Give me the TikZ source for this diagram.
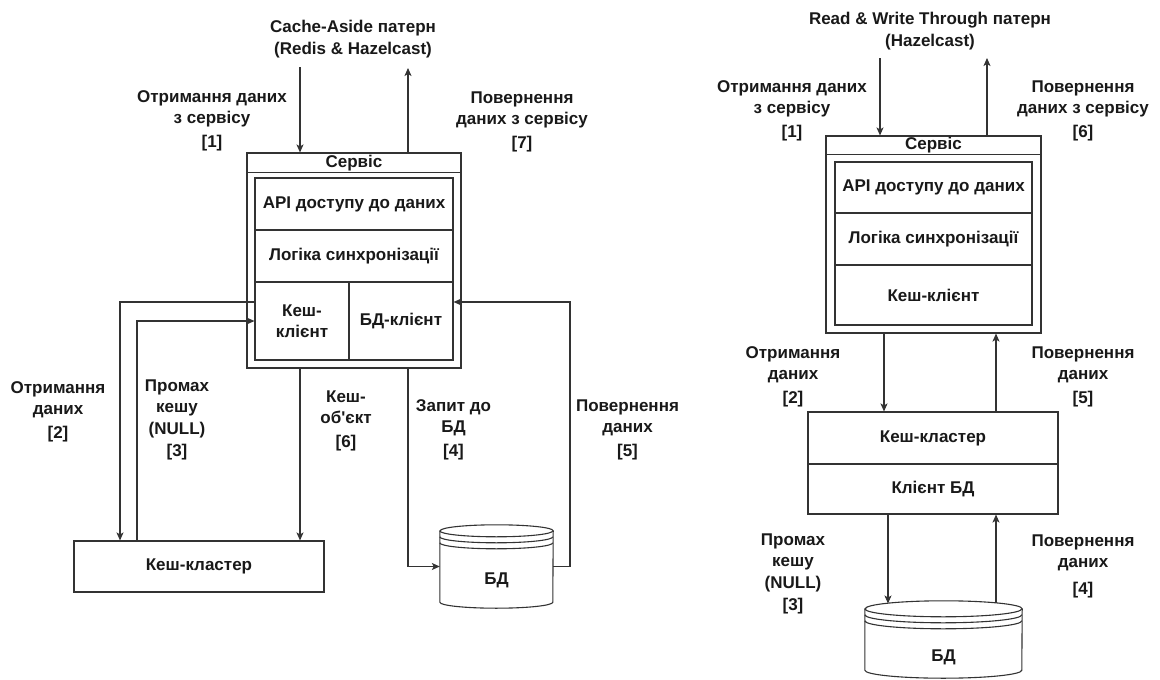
\documentclass[tikz,border=0pt]{standalone}
\usepackage{fontspec}
\newfontfamily\dgfont{Liberation Sans}
\usetikzlibrary{arrows.meta}

% cylinder-shaped data store drawn over an invisible node:
% #1 node name, #2 half width, #3 radius of the top ellipse
\newcommand\datastore[3]{%
  \draw[line,fill=white] ([yshift=-#3pt]#1.north west) -- ([yshift=#3pt]#1.south west)
    arc[start angle=180,end angle=360,x radius=#2pt,y radius=#3pt]
    -- ([yshift=-#3pt]#1.north east)
    arc[start angle=0,end angle=180,x radius=#2pt,y radius=#3pt] -- cycle;
  \draw[line] ([yshift=-#3pt]#1.north west)
    arc[start angle=180,end angle=360,x radius=#2pt,y radius=#3pt];
  \draw[line] ([yshift=-#3pt-6pt]#1.north west)
    arc[start angle=180,end angle=360,x radius=#2pt,y radius=#3pt];
  \draw[line] ([yshift=-#3pt-12pt]#1.north west)
    arc[start angle=180,end angle=360,x radius=#2pt,y radius=#3pt];
}

\begin{document}
\begin{tikzpicture}[x=1pt,y=-1pt,
  every node/.style={font=\dgfont\bfseries\fontsize{17}{21.5}\selectfont, text=black!90},
  line/.style={draw=black!80, line width=1.1pt},
  box/.style={line, rectangle, fill=white, inner sep=0pt, align=center},
  lbl/.style={align=center, inner sep=0pt},
  arr/.style={line, -{Stealth[length=8pt,width=7pt,inset=2pt]}}]

\fill[white] (0,0) rectangle (1160,680);
\useasboundingbox (0,0) rectangle (1160,680);

% ---------------- Cache-Aside ----------------
\node[lbl] (titleA) at (353,39) {Cache-Aside патерн\\(Redis \& Hazelcast)};

\node[box, minimum width=214pt, minimum height=215pt] (svcA) at (354,260.5) {};
\draw[line] ([yshift=-20pt]svcA.north west) -- ([yshift=-20pt]svcA.north east);
\node[lbl] (svcAt) at (354,163) {Сервіс};
\node[box, minimum width=198pt, minimum height=52pt] (apiA) at (354,204) {API доступу до даних};
\node[box, minimum width=198pt, minimum height=52pt] (syncA) at (354,256) {Логіка синхронізації};
\node[box, minimum width=94pt, minimum height=78pt] (kclA) at (302,321) {Кеш-\\клієнт};
\node[box, minimum width=104pt, minimum height=78pt] (dbcA) at (401,321) {БД-клієнт};

\node[box, minimum width=250pt, minimum height=51pt] (ccA) at (199,566.5) {Кеш-кластер};

\node[inner sep=0pt, minimum width=113pt, minimum height=83pt] (dbA) at (496.5,566.5) {};
\datastore{dbA}{56.5}{6}
\node[lbl] (dbAt) at (496.5,580) {БД};

\coordinate (inA) at (300,67);
\coordinate (outA) at (408,68);
\coordinate (xA6) at (300,0);
\coordinate (xA4) at (408,0);
\coordinate (r5A) at (570,302);

\draw[arr] (inA) -- (svcA.north -| inA);
\draw[arr] (svcA.north -| outA) -- (outA);
\draw[arr] ([yshift=19pt]kclA.west) -| ([xshift=-79pt]ccA.north);
\draw[arr] ([xshift=-62pt]ccA.north) |- (kclA.west);
\draw[arr] (svcA.south -| xA6) -- (ccA.north -| xA6);
\draw[arr] (svcA.south -| xA4) |- (dbA.west);
\draw[arr] (dbA.east) -| (r5A) -- ([yshift=19pt]dbcA.east);

\node[lbl] (l1A) at (212,121) {Отримання даних\\з сервісу\\[2.5pt]{[1]}};
\node[lbl] (l7A) at (522,122) {Повернення\\даних з сервісу\\[2.5pt]{[7]}};
\node[lbl] (l2A) at (58,412) {Отримання\\даних\\[2.5pt]{[2]}};
\node[lbl] (l3A) at (177,420) {Промах\\кешу\\(NULL)\\[1pt]{[3]}};
\node[lbl] (l6A) at (346,421) {Кеш-\\об'єкт\\[2.5pt]{[6]}};
\node[lbl] (l4A) at (453.5,430) {Запит до\\БД\\[2.5pt]{[4]}};
\node[lbl] (l5A) at (627.5,430) {Повернення\\даних\\[2.5pt]{[5]}};

% ---------------- Read & Write Through ----------------
\node[lbl] (titleB) at (930,31) {Read \& Write Through патерн\\(Hazelcast)};

\node[box, minimum width=215pt, minimum height=197pt] (svcB) at (933.5,234.5) {};
\draw[line] ([yshift=-19pt]svcB.north west) -- ([yshift=-19pt]svcB.north east);
\node[lbl] (svcBt) at (933.5,145.5) {Сервіс};
\node[box, minimum width=197pt, minimum height=51pt] (apiB) at (933.5,187.5) {API доступу до даних};
\node[box, minimum width=197pt, minimum height=52pt] (syncB) at (933.5,239) {Логіка синхронізації};
\node[box, minimum width=197pt, minimum height=60pt] (kclB) at (933.5,295) {Кеш-клієнт};

\node[box, minimum width=250pt, minimum height=52pt] (ccB) at (933,438) {Кеш-кластер};
\node[box, minimum width=250pt, minimum height=50pt] (dbcB) at (933,489) {Клієнт БД};

\node[inner sep=0pt, minimum width=157pt, minimum height=77pt] (dbB) at (943.5,639.5) {};
\datastore{dbB}{78.5}{8}
\node[lbl] (dbBt) at (943.5,657) {БД};

\coordinate (inB) at (880,58);
\coordinate (outB) at (987,58);
\coordinate (xB2) at (884,0);
\coordinate (xB5) at (996,0);
\coordinate (xB3) at (888,0);
\coordinate (dbBin) at (888,603.5);
\coordinate (dbBout) at (996,603);

\draw[arr] (inB) -- (svcB.north -| inB);
\draw[arr] (svcB.north -| outB) -- (outB);
\draw[arr] (svcB.south -| xB2) -- (ccB.north -| xB2);
\draw[arr] (ccB.north -| xB5) -- (svcB.south -| xB5);
\draw[arr] (dbcB.south -| xB3) -- (dbBin);
\draw[arr] (dbBout) -- (dbcB.south -| xB5);

\node[lbl] (l1B) at (792,111) {Отримання даних\\з сервісу\\[2.5pt]{[1]}};
\node[lbl] (l6B) at (1083,111) {Повернення\\даних з сервісу\\[2.5pt]{[6]}};
\node[lbl] (l2B) at (793,377) {Отримання\\даних\\[2.5pt]{[2]}};
\node[lbl] (l5B) at (1083,377) {Повернення\\даних\\[2.5pt]{[5]}};
\node[lbl] (l3B) at (793,574) {Промах\\кешу\\(NULL)\\[1pt]{[3]}};
\node[lbl] (l4B) at (1083,566) {Повернення\\даних\\[5pt]{[4]}};
\end{tikzpicture}
\end{document}
